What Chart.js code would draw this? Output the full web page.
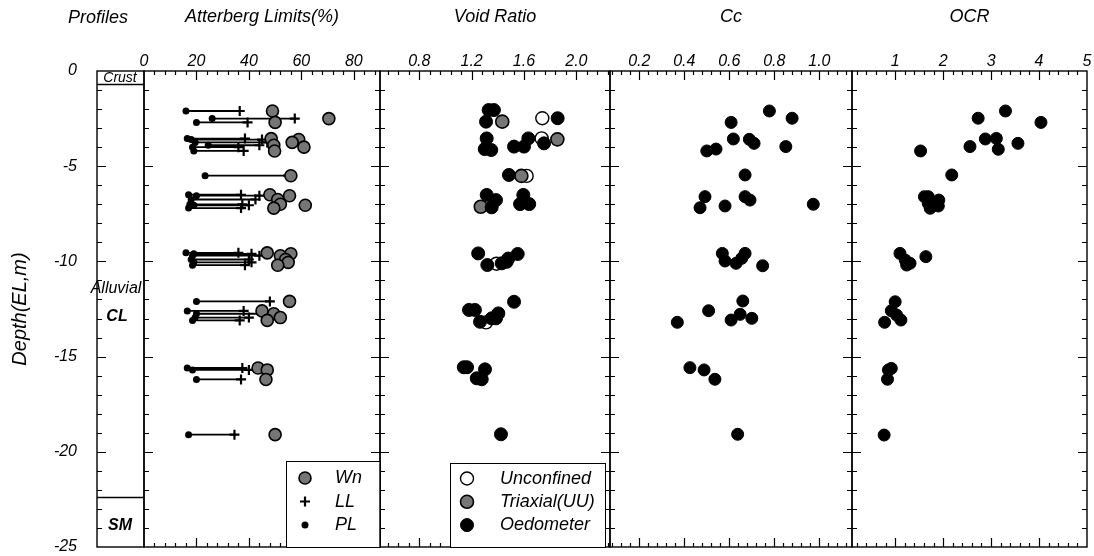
<!DOCTYPE html>
<html>
<head>
<meta charset="utf-8">
<script src="https://cdn.jsdelivr.net/npm/chart.js@4.4.1/dist/chart.umd.min.js"></script>
<style>
  body { margin: 0; background: #fff; }
  #wrap { position: relative; width: 1094px; height: 556px; background: #fff; }
  #wrap canvas { position: absolute; left: 0; top: 0; }
</style>
</head>
<body>
<div id="wrap">
  <canvas id="cProfile" width="1094" height="556"></canvas>
  <canvas id="cAtt" width="1094" height="556"></canvas>
  <canvas id="cVr" width="1094" height="556"></canvas>
  <canvas id="cCc" width="1094" height="556"></canvas>
  <canvas id="cOcr" width="1094" height="556"></canvas>
</div>
<script>
// --- tick labels ---
var DEPTH_TICKS = [0, -5, -10, -15, -20, -25];
var ATT_TICKS = [0, 20, 40, 60, 80];
var VR_TICKS = [0.8, 1.2, 1.6, 2.0];
var CC_TICKS = [0.2, 0.4, 0.6, 0.8, 1.0];
var OCR_TICKS = [1, 2, 3, 4, 5];

// --- soil profile ---
var LAYER_NAMES = ['Crust', 'Alluvial', 'CL', 'SM'];
var LAYER_BOUNDS = [-0.7, -22.4];

// --- Atterberg limits (%) ---
var attDepth = [-2.1, -2.5, -2.7, -3.55, -3.6, -3.75, -3.9, -4.0, -4.2, -5.5,
                -6.5, -6.55, -6.75, -7.0, -7.05, -7.2,
                -9.55, -9.6, -9.7, -9.9, -10.05, -10.2,
                -12.1, -12.6, -12.75, -12.95, -13.1,
                -15.6, -15.7, -16.2, -19.1];
var attPL = [16, 26, 20, 16.5, 18, 19.5, 24.5, 18.5, 19, 23.3,
             17, 20, 18, 17.5, 19, 17,
             16, 19, 18.5, 18, 19, 18.5,
             20, 16.5, 20, 19.5, 18.5,
             16.5, 18.5, 20, 17];
var attLL = [36.5, 57.5, 39.5, 38.5, 45, 47, 44, 36, 38, 55,
             37, 44, 42.5, 37.5, 40, 37,
             36, 41, 44, 40, 41, 38.5,
             48, 38, 45, 40, 36.5,
             37.5, 40, 37, 34.5];
var attWn = [49, 70.5, 50, 48.5, 59, 56.5, 49.5, 61, 49.8, 56,
             48, 55.5, 51, 52, 61.5, 49.5,
             47, 56, 52, 54, 55, 51,
             55.5, 45, 49.5, 52, 47,
             43.5, 47, 46.5, 50];

// --- void ratio ---
var vrUncDepth = [-2.48, -3.54, -5.51, -10.12, -13.2];
var vrUnc = [1.74, 1.735, 1.62, 1.39, 1.31];
var vrTxDepth = [-2.66, -3.59, -5.51, -7.13];
var vrTx = [1.434, 1.855, 1.58, 1.27];
var vrOedDepth = [-2.05, -2.05, -2.66, -2.48,
                  -3.54, -4.1, -4.15, -3.97, -3.97, -3.54, -3.8,
                  -5.46,
                  -6.51, -6.78, -7.16, -6.51, -6.99, -6.99,
                  -9.58, -10.19, -10.02, -9.85, -9.61, -10.1,
                  -12.12, -12.55, -12.55, -13.17, -12.99, -12.73, -12.99,
                  -15.56, -15.56, -15.67, -16.14, -16.19,
                  -19.08];
var vrOed = [1.33, 1.37, 1.31, 1.857,
             1.315, 1.30, 1.35, 1.524, 1.6, 1.633, 1.753,
             1.485,
             1.315, 1.386, 1.353, 1.595, 1.57, 1.64,
             1.25, 1.32, 1.468, 1.48, 1.552, 1.43,
             1.524, 1.18, 1.225, 1.264, 1.353, 1.404, 1.386,
             1.14, 1.165, 1.302, 1.239, 1.277,
             1.424];

// --- compression index ---
var ccDepth = [-2.1, -2.48, -2.7, -3.57, -3.59, -3.8, -3.97, -4.1, -4.2,
               -5.46, -6.6, -6.6, -6.78, -7.18, -7.09, -7.0,
               -9.58, -9.98, -10.1, -9.84, -9.58, -10.23,
               -12.08, -12.59, -12.78, -13.08, -12.99, -13.2,
               -15.58, -15.7, -16.19, -19.08];
var ccVal = [0.778, 0.879, 0.608, 0.618, 0.689, 0.71, 0.851, 0.541, 0.5,
             0.67, 0.492, 0.67, 0.692, 0.47, 0.581, 0.973,
             0.569, 0.581, 0.63, 0.655, 0.67, 0.748,
             0.66, 0.508, 0.648, 0.608, 0.7, 0.369,
             0.425, 0.488, 0.536, 0.637];

// --- over-consolidation ratio ---
var ocrDepth = [-2.1, -2.48, -2.7, -3.57, -3.54, -3.8, -3.97, -4.11, -4.2,
                -5.46, -6.6, -6.6, -6.95, -7.21, -6.78, -7.09,
                -9.58, -9.93, -10.1, -10.19, -9.75,
                -12.12, -12.59, -12.82, -13.08, -13.2,
                -15.62, -15.7, -16.19, -19.12];
var ocrVal = [3.3, 2.73, 4.04, 2.88, 3.11, 3.56, 2.56, 3.15, 1.53,
              2.18, 1.61, 1.69, 1.69, 1.73, 1.91, 1.9,
              1.1, 1.21, 1.31, 1.24, 1.64,
              1.0, 0.92, 1.03, 1.12, 0.78,
              0.92, 0.86, 0.84, 0.77];

var W = 1094, TOP = 71, BOT = 9;
var FONT = '"Liberation Sans", Arial, Helvetica, sans-serif';

Chart.defaults.font.family = FONT;
Chart.defaults.font.style = 'italic';
Chart.defaults.font.size = 16;
Chart.defaults.color = '#000';
Chart.defaults.animation = false;
Chart.defaults.plugins.legend.display = false;
Chart.defaults.plugins.tooltip.enabled = false;

function pts(xs, ys) {
    return xs.map(function(v, i) { return { x: v, y: ys[i] }; });
}

// frame + inward tick marks on all four sides
var frameTicks = {
    id: 'frameTicks',
    beforeDatasetsDraw: function(chart, args, o) {
        var ctx = chart.ctx, a = chart.chartArea, ys = chart.scales.y, xs = chart.scales.x;
        ctx.save();
        ctx.strokeStyle = '#000';
        ctx.lineWidth = 1.4;
        ctx.strokeRect(a.left, a.top, a.right - a.left, a.bottom - a.top);
        ctx.lineWidth = 1.2;
        ctx.beginPath();
        for (var d = -1; d > -25; d--) {
            var py = Math.round(ys.getPixelForValue(d)) + 0.5;
            var len = d % 5 === 0 ? 9 : 5;
            ctx.moveTo(a.left, py); ctx.lineTo(a.left + len, py);
            if (o.right !== false) { ctx.moveTo(a.right, py); ctx.lineTo(a.right - len, py); }
        }
        if (o.step) {
            var i0 = Math.ceil(xs.min / o.step - 1e-6), i1 = Math.floor(xs.max / o.step + 1e-6);
            for (var i = i0; i <= i1; i++) {
                var v = i * o.step, r = v / o.major;
                var px = Math.round(xs.getPixelForValue(v)) + 0.5;
                if (px < a.left + 1 || px > a.right - 1) continue;
                var l = Math.abs(r - Math.round(r)) < 1e-6 ? 9 : 4;
                ctx.moveTo(px, a.top); ctx.lineTo(px, a.top + l);
                ctx.moveTo(px, a.bottom); ctx.lineTo(px, a.bottom - l);
            }
        }
        ctx.stroke();
        ctx.restore();
    }
};

// boxed legend in the lower right corner
var boxLegend = {
    id: 'boxLegend',
    afterDatasetsDraw: function(chart, args, o) {
        if (!o.items) return;
        var ctx = chart.ctx, a = chart.chartArea;
        var x0 = Math.round(a.right - o.right - o.width), y0 = Math.round(a.bottom - o.height);
        ctx.save();
        ctx.fillStyle = '#fff';
        ctx.fillRect(x0, y0, o.width, o.height);
        ctx.strokeStyle = '#000';
        ctx.lineWidth = 1;
        ctx.strokeRect(x0 + 0.5, y0 + 0.5, o.width, o.height);
        ctx.font = 'italic 18px ' + FONT;
        ctx.textBaseline = 'middle';
        o.items.forEach(function(idx, k) {
            var ds = chart.data.datasets[idx];
            var cy = y0 + o.firstRow + k * o.rowGap;
            ctx.fillStyle = ds.backgroundColor;
            ctx.strokeStyle = ds.borderColor;
            ctx.lineWidth = ds.borderWidth;
            Chart.helpers.drawPoint(ctx, { pointStyle: ds.pointStyle, radius: ds.pointRadius, borderWidth: ds.borderWidth, rotation: 0 }, x0 + o.markX, cy);
            ctx.fillStyle = '#000';
            ctx.fillText(ds.label, x0 + o.textX, cy);
        });
        ctx.restore();
    }
};

// layer lines and names in the profile column
var profileLayers = {
    id: 'profileLayers',
    afterDatasetsDraw: function(chart, args, o) {
        if (!o.labels) return;
        var ctx = chart.ctx, a = chart.chartArea, ys = chart.scales.y;
        ctx.save();
        ctx.strokeStyle = '#000';
        ctx.lineWidth = 1.3;
        ctx.beginPath();
        LAYER_BOUNDS.forEach(function(d) {
            var py = Math.round(ys.getPixelForValue(d)) + 0.5;
            ctx.moveTo(a.left, py); ctx.lineTo(a.right, py);
        });
        ctx.stroke();
        ctx.fillStyle = '#000';
        ctx.textAlign = 'center';
        ctx.textBaseline = 'middle';
        o.labels.forEach(function(l, i) {
            ctx.font = (l.bold ? 'italic bold ' : 'italic ') + l.size + 'px ' + FONT;
            ctx.fillText(LAYER_NAMES[i], a.left + l.dx, ys.getPixelForValue(l.depth));
        });
        ctx.font = 'italic 18px ' + FONT;
        ctx.fillText('Profiles', o.headX, o.headY);
        ctx.restore();
    }
};

Chart.register(frameTicks, boxLegend, profileLayers);

function panelScales(title, min, max, tickVals, fmt) {
    return {
        x: {
            type: 'linear', position: 'top', min: min, max: max,
            afterBuildTicks: function(s) { s.ticks = tickVals.map(function(v) { return { value: v }; }); },
            afterFit: function(s) { s.height = TOP; s.paddingLeft = 0; s.paddingRight = 0; },
            grid: { display: false, drawTicks: false },
            border: { display: false },
            ticks: { padding: 0, maxRotation: 0, autoSkip: false, callback: fmt },
            title: { display: true, text: title, font: { size: 18 }, padding: { top: 6, bottom: 0 } }
        },
        y: { display: false, min: -25, max: 0 }
    };
}

function panel(id, left, right, scales, datasets, plugins) {
    return new Chart(document.getElementById(id), {
        type: 'scatter',
        data: { datasets: datasets },
        options: {
            responsive: false,
            layout: { padding: { left: left, right: W - right, top: 0, bottom: BOT } },
            scales: scales,
            plugins: plugins
        }
    });
}

// profile column with the depth axis
new Chart(document.getElementById('cProfile'), {
    type: 'scatter',
    data: { datasets: [] },
    options: {
        responsive: false,
        layout: { padding: { left: 0, right: W - 144, top: TOP, bottom: BOT } },
        scales: {
            x: { display: false, min: 0, max: 1 },
            y: {
                position: 'left', min: -25, max: 0,
                afterBuildTicks: function(s) { s.ticks = DEPTH_TICKS.map(function(v) { return { value: v }; }); },
                afterFit: function(s) { s.width = 97; s.paddingTop = 0; s.paddingBottom = 0; },
                grid: { display: false, drawTicks: false },
                border: { display: false },
                ticks: { padding: 20, callback: function(v) { return String(v); } },
                title: { display: true, text: 'Depth(EL,m)', font: { size: 20 }, padding: { top: 8, bottom: 0 } }
            }
        },
        plugins: {
            frameTicks: { step: 0, right: false },
            profileLayers: {
                headX: 98, headY: 18,
                labels: [
                    { depth: -0.37, dx: 23, size: 14, bold: false },
                    { depth: -11.45, dx: 19, size: 16, bold: false },
                    { depth: -12.9, dx: 20, size: 16, bold: true },
                    { depth: -23.85, dx: 23, size: 16, bold: true }
                ]
            }
        }
    }
});

// Atterberg limits
var attLines = [];
attDepth.forEach(function(d, i) {
    attLines.push({ x: attPL[i], y: d }, { x: attLL[i], y: d }, { x: null, y: null });
});
panel('cAtt', 144, 380,
    panelScales('Atterberg Limits(%)', 0, 90, ATT_TICKS, function(v) { return String(v); }),
    [
        { label: 'Wn', data: pts(attWn, attDepth), pointStyle: 'circle', pointRadius: 6, backgroundColor: '#767676', borderColor: '#000', borderWidth: 1.6, order: 0 },
        { label: 'LL', data: pts(attLL, attDepth), pointStyle: 'cross', pointRadius: 5, backgroundColor: '#000', borderColor: '#000', borderWidth: 2.2, order: 1 },
        { label: 'PL', data: pts(attPL, attDepth), pointStyle: 'circle', pointRadius: 3.5, backgroundColor: '#000', borderColor: '#000', borderWidth: 0, order: 2 },
        { label: '', data: attLines, showLine: true, spanGaps: false, borderColor: '#000', borderWidth: 1.8, pointRadius: 0, order: 3 }
    ],
    {
        frameTicks: { step: 4, major: 20 },
        boxLegend: { items: [0, 1, 2], width: 94, height: 86, right: 0, firstRow: 17, rowGap: 23.5, markX: 19, textX: 49 }
    });

// void ratio
panel('cVr', 380, 610,
    panelScales('Void Ratio', 0.5, 2.257, VR_TICKS, function(v) { return v.toFixed(1); }),
    [
        { label: 'Unconfined', data: pts(vrUnc, vrUncDepth), pointStyle: 'circle', pointRadius: 6.5, backgroundColor: '#fff', borderColor: '#000', borderWidth: 1.4, order: 2 },
        { label: 'Triaxial(UU)', data: pts(vrTx, vrTxDepth), pointStyle: 'circle', pointRadius: 6.5, backgroundColor: '#767676', borderColor: '#000', borderWidth: 1.6, order: 1 },
        { label: 'Oedometer', data: pts(vrOed, vrOedDepth), pointStyle: 'circle', pointRadius: 6.5, backgroundColor: '#000', borderColor: '#000', borderWidth: 1, order: 0 }
    ],
    {
        frameTicks: { step: 0.08, major: 0.4 },
        boxLegend: { items: [0, 1, 2], width: 155, height: 84, right: 5, firstRow: 15.5, rowGap: 23.3, markX: 17, textX: 50 }
    });

// compression index
panel('cCc', 610, 852,
    panelScales('Cc', 0.07, 1.145, CC_TICKS, function(v) { return v.toFixed(1); }),
    [
        { label: 'Cc', data: pts(ccVal, ccDepth), pointStyle: 'circle', pointRadius: 6, backgroundColor: '#000', borderColor: '#000', borderWidth: 1 }
    ],
    { frameTicks: { step: 0.04, major: 0.2 } });

// OCR
panel('cOcr', 852, 1089,
    panelScales('OCR', 0.1, 5, OCR_TICKS, function(v) { return String(v); }),
    [
        { label: 'OCR', data: pts(ocrVal, ocrDepth), pointStyle: 'circle', pointRadius: 6, backgroundColor: '#000', borderColor: '#000', borderWidth: 1 }
    ],
    { frameTicks: { step: 0.2, major: 1 } });
</script>
</body>
</html>
